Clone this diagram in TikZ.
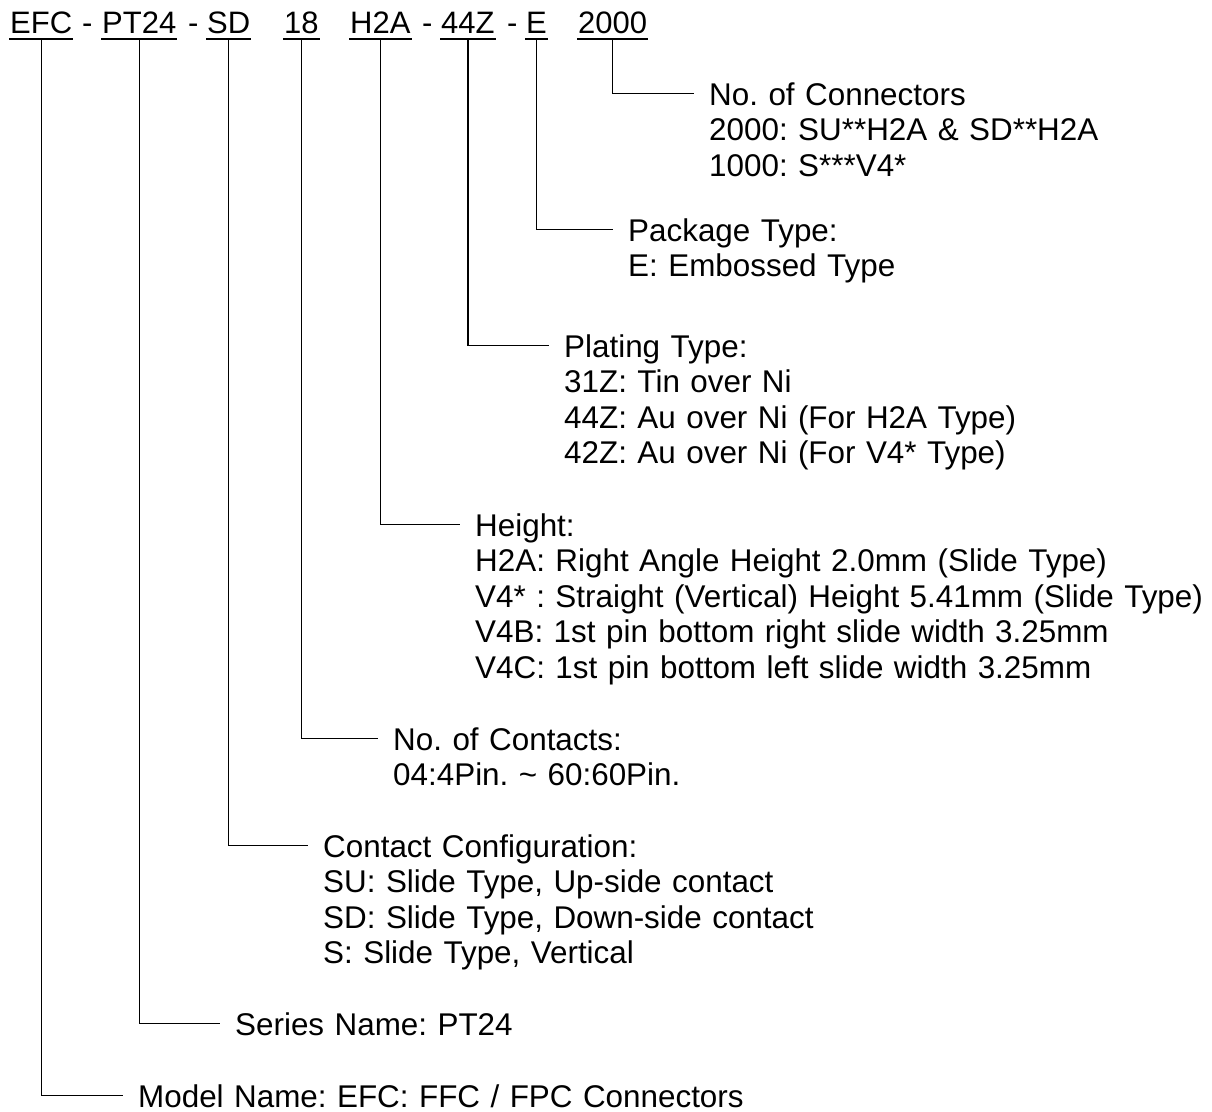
\documentclass[tikz,border=0pt]{standalone}
\usepackage{fontspec}
\setmainfont{Liberation Sans}
\usetikzlibrary{positioning}
\frenchspacing

\begin{document}
\begin{tikzpicture}[
    x=1pt, y=-1pt,
    lead line/.style={line width=1.3pt},
    under line/.style={line width=2.6pt},
    part/.style={anchor=base west, inner xsep=1pt, inner ysep=0pt,
    font=\fontsize{31}{36}\selectfont},
    desc/.style={anchor=base west, inner sep=0pt, align=left, text width=#1,
    font=\fontsize{31.4}{35.5}\selectfont}
    ]
    \useasboundingbox (0,0) rectangle (1212,1111);

    % part number
    \node[part] (efc) at (9,33) {EFC};
    \node[part] (d1)  at (81,33) {-};
    \node[part] (pt)  at (101,33) {PT24};
    \node[part] (d2)  at (187,33) {-};
    \node[part] (sd)  at (206,33) {SD};
    \node[part] (cnt) at (283,33) {18};
    \node[part] (hgt) at (349,33) {H2A};
    \node[part] (d3)  at (421,33) {-};
    \node[part] (plt) at (440,33) {44Z};
    \node[part] (d4)  at (506,33) {-};
    \node[part] (pkg) at (525,33) {E};
    \node[part] (qty) at (577,33) {2000};

    \foreach \p in {efc,pt,sd,cnt,hgt,plt,pkg,qty}
        \draw[under line] ([yshift=-6pt]\p.base west) -- ([yshift=-6pt]\p.base east);

    % descriptions
    \node[desc=480pt] (qty text) at (709,105) {No. of Connectors\\
        2000: SU**H2A \& SD**H2A\\1000: S***V4*};
    \node[desc=400pt] (pkg text) at (628,241) {Package Type:\\E: Embossed Type};
    \node[desc=560pt] (plt text) at (564,357) {Plating Type:\\31Z: Tin over Ni\\
        44Z: Au over Ni (For H2A Type)\\42Z: Au over Ni (For V4* Type)};
    \node[desc=736pt] (hgt text) at (475,536) {Height:\\
        H2A: Right Angle Height 2.0mm (Slide Type)\\
        V4* : Straight (Vertical) Height 5.41mm (Slide Type)\\
        V4B: 1st pin bottom right slide width 3.25mm\\
        V4C: 1st pin bottom left slide width 3.25mm};
    \node[desc=400pt] (cnt text) at (393,750) {No. of Contacts:\\
        04:4Pin. \textasciitilde{} 60:60Pin.};
    \node[desc=600pt] (sd text) at (323,857) {Contact Configuration:\\
        SU: Slide Type, Up-side contact\\SD: Slide Type, Down-side contact\\
        S: Slide Type, Vertical};
    \node[desc=400pt] (pt text) at (235,1035) {Series Name: PT24};
    \node[desc=700pt] (efc text) at (138,1107) {Model Name: EFC: FFC / FPC Connectors};

    \foreach \p in {efc,pt,sd,cnt,hgt,plt,pkg,qty}
        \draw[lead line] ([yshift=-6pt]\p.base) |- ([shift={(-15pt,11.5pt)}]\p\space text.base west);

\end{tikzpicture}
\end{document}
